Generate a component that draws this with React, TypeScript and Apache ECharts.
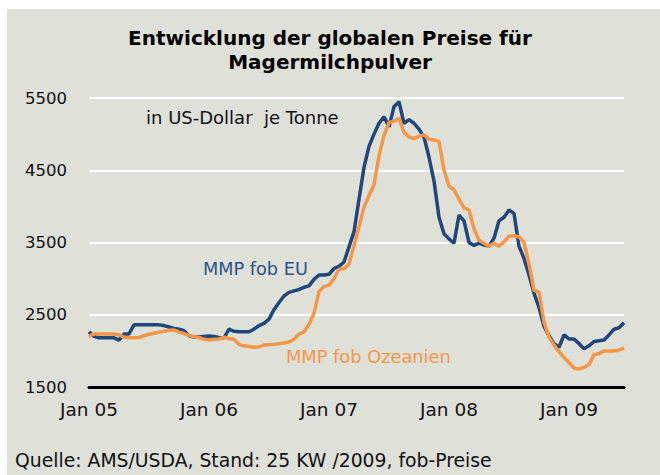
import React, { useEffect, useRef } from "react";
import * as echarts from "echarts";

// Semi-monthly points, Jan 2005 .. Jun 2009 (1st and 15th of each month)
const years = [2005, 2006, 2007, 2008, 2009];
const categories: string[] = [];
years.forEach((y) => {
  const lastMonth = y === 2009 ? 6 : 12;
  for (let m = 1; m <= lastMonth; m++) {
    const mm = m < 10 ? "0" + m : "" + m;
    categories.push(`${y}-${mm}-01`);
    categories.push(`${y}-${mm}-15`);
  }
});

const eu = [
  2265, 2200, 2180, 2180, 2180, 2180, 2150, 2235, 2235, 2360,
  2360, 2360, 2360, 2360, 2360, 2350, 2330, 2310, 2300, 2280,
  2210, 2190, 2195, 2200, 2205, 2200, 2185, 2180, 2300, 2270,
  2265, 2265, 2265, 2300, 2350, 2380, 2440, 2570, 2670, 2760,
  2810, 2830, 2850, 2880, 2900, 2990, 3050, 3050, 3060, 3140,
  3170, 3230, 3440, 3650, 4100, 4540, 4830, 5000, 5150, 5240,
  5100, 5380, 5450, 5150, 5200, 5150, 5070, 4960, 4680, 4350,
  3850, 3620, 3550, 3490, 3880, 3800, 3500, 3460, 3490, 3465,
  3450, 3560, 3800, 3850, 3950, 3900, 3450, 3280, 3050, 2800,
  2600, 2340, 2210, 2100, 2050, 2220, 2165, 2165, 2100, 2030,
  2070, 2130, 2140, 2150, 2220, 2300, 2320, 2390,
];

const oceania = [
  2200, 2235, 2235, 2235, 2235, 2235, 2220, 2190, 2180, 2180,
  2185, 2210, 2230, 2245, 2260, 2270, 2285, 2290, 2260, 2240,
  2215, 2195, 2185, 2160, 2150, 2160, 2165, 2190, 2170, 2160,
  2090, 2070, 2060, 2050, 2055, 2080, 2085, 2090, 2100, 2110,
  2125, 2160, 2235, 2260, 2370, 2520, 2820, 2890, 2910, 3000,
  3130, 3140, 3200, 3460, 3720, 3990, 4150, 4300, 4700, 4980,
  5160, 5180, 5220, 5020, 4960, 4940, 4970, 4990, 4930, 4920,
  4900, 4500, 4280, 4230, 4100, 3980, 3950, 3690, 3530, 3490,
  3450, 3490, 3450, 3510, 3590, 3590, 3580, 3500, 3200, 2840,
  2810, 2400, 2190, 2080, 1990, 1910, 1840, 1760, 1750, 1770,
  1810, 1950, 1960, 2000, 2000, 2000, 2010, 2040,
];

const yTicks = [1500, 2500, 3500, 4500, 5500];

const FONT = "DejaVu Sans, Verdana, sans-serif";
const BLUE = "#1f477c";
const ORANGE = "#f79646";

export default function App() {
  const ref = useRef<HTMLDivElement>(null);
  useEffect(() => {
    document.body.style.margin = "0";
    const chart = echarts.init(ref.current!, null, { renderer: "svg" });
    chart.setOption({
      animation: false,
      backgroundColor: "#ffffff",
      title: {
        text: "Entwicklung der globalen Preise für\nMagermilchpulver",
        left: "center",
        top: 26,
        padding: 0,
        textStyle: {
          fontFamily: FONT,
          fontSize: 20,
          fontWeight: "bold",
          color: "#000000",
          lineHeight: 24,
        },
      },
      graphic: [
        {
          type: "rect",
          z: -100,
          silent: true,
          shape: { x: 7, y: 9, width: 653, height: 466 },
          style: { fill: "#dfe0d8" },
        },
        {
          type: "text",
          left: 146,
          top: 108,
          style: {
            text: "in US-Dollar\u00a0 je Tonne",
            fontFamily: FONT,
            fontSize: 18,
            fill: "#111111",
          },
        },
        {
          type: "text",
          left: 203,
          top: 260,
          style: {
            text: "MMP fob EU",
            fontFamily: FONT,
            fontSize: 17.7,
            fill: "#2b5389",
          },
        },
        {
          type: "text",
          left: 286,
          top: 347,
          style: {
            text: "MMP fob Ozeanien",
            fontFamily: FONT,
            fontSize: 17.8,
            fill: ORANGE,
          },
        },
        {
          type: "text",
          left: 15,
          top: 451,
          style: {
            text: "Quelle: AMS/USDA, Stand: 25 KW /2009, fob-Preise",
            fontFamily: FONT,
            fontSize: 18.8,
            fill: "#111111",
          },
        },
      ],
      grid: { left: 89, right: 36, top: 98, bottom: 88 },
      xAxis: {
        type: "category",
        data: categories,
        boundaryGap: false,
        axisLine: { lineStyle: { color: "#000000", width: 3 } },
        axisTick: { show: false },
        axisLabel: {
          interval: (idx: number, val: string) => val.endsWith("-01-01"),
          formatter: (val: string) => "Jan " + val.slice(2, 4),
          fontFamily: FONT,
          fontSize: 18.5,
          color: "#111111",
          margin: 13,
        },
        splitLine: { show: false },
      },
      yAxis: {
        type: "value",
        min: yTicks[0],
        max: yTicks[yTicks.length - 1],
        interval: 1000,
        axisLine: { show: false },
        axisTick: { show: false },
        axisLabel: {
          formatter: (v: number) => String(v),
          fontFamily: FONT,
          fontSize: 16.5,
          color: "#111111",
          margin: 22,
        },
        splitLine: { lineStyle: { color: "#ffffff", width: 2 } },
      },
      series: [
        {
          name: "MMP fob EU",
          type: "line",
          data: eu,
          symbol: "none",
          lineStyle: { color: BLUE, width: 3.5 },
          z: 3,
        },
        {
          name: "MMP fob Ozeanien",
          type: "line",
          data: oceania,
          symbol: "none",
          lineStyle: { color: ORANGE, width: 3.5 },
          z: 4,
        },
      ],
    });
    return () => chart.dispose();
  }, []);
  return (
    <div
      ref={ref}
      style={{ position: "fixed", left: 0, top: 0, width: 660, height: 475 }}
    />
  );
}
